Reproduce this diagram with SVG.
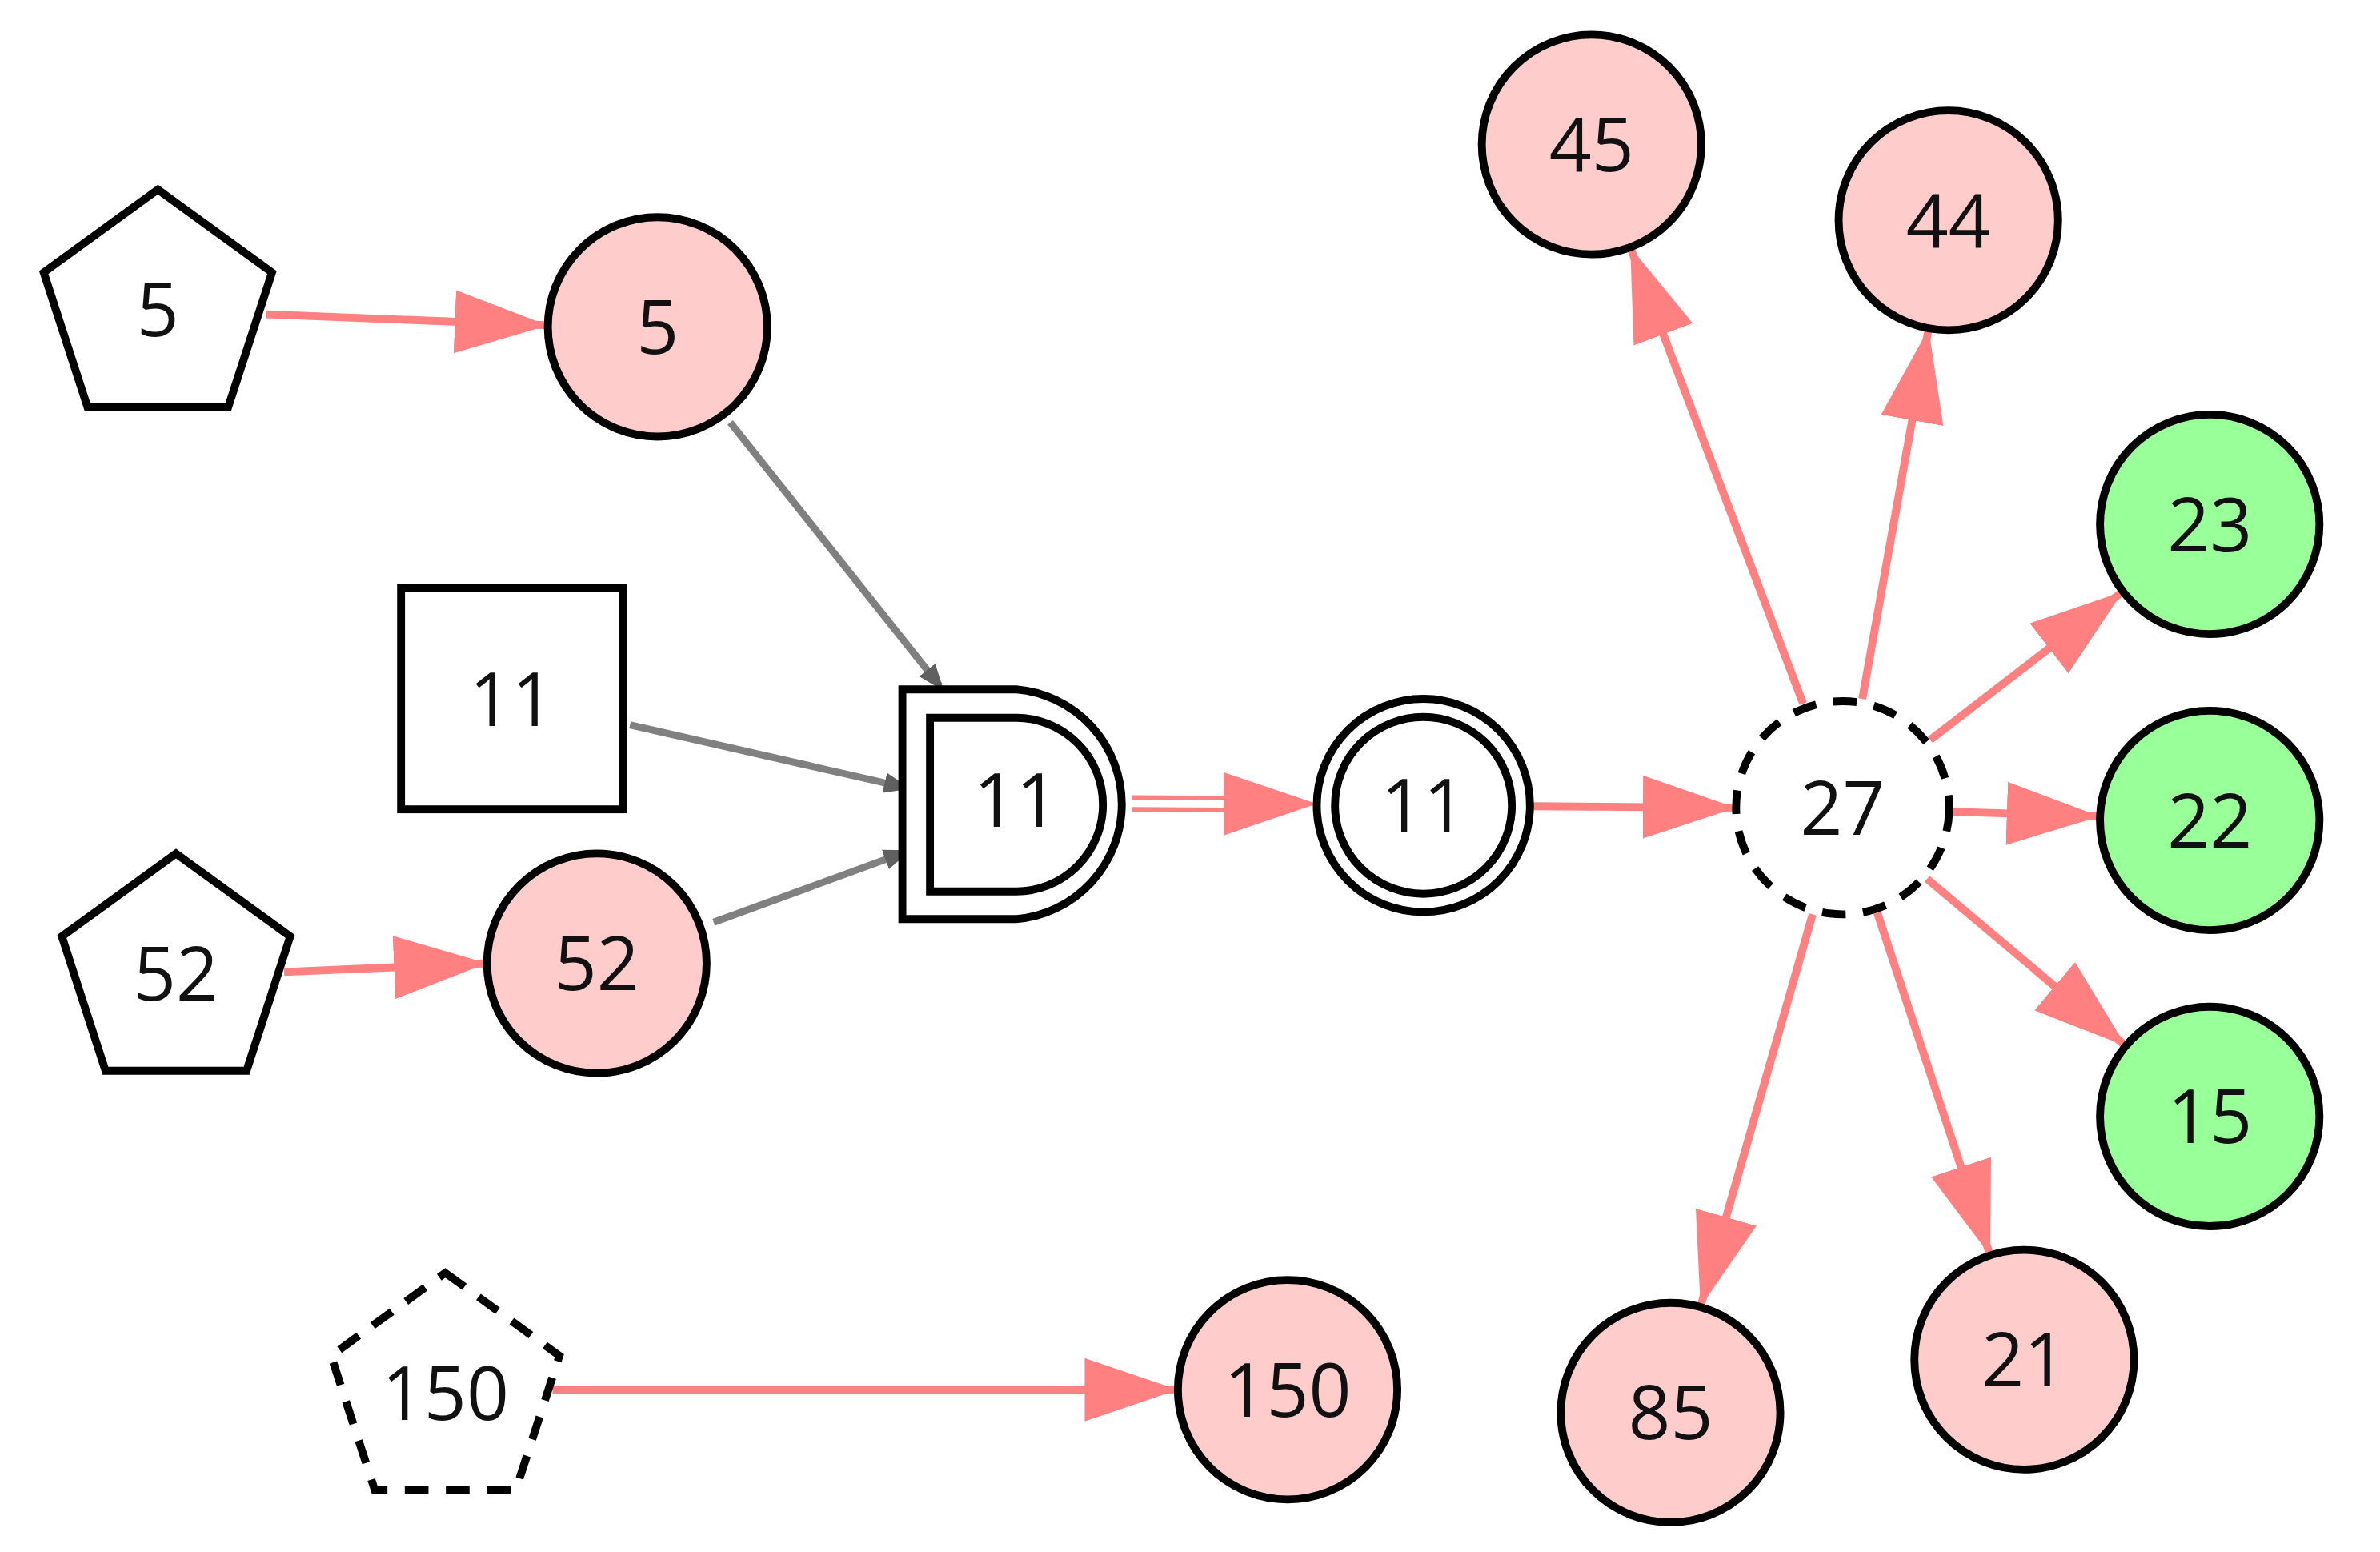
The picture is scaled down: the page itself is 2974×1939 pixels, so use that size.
<svg xmlns="http://www.w3.org/2000/svg" width="2974" height="1939" viewBox="0 0 2974 1939">
<style>
.n{stroke:#000;stroke-width:10}
.p{fill:#ffcccc}.g{fill:#99ff99}.w{fill:#fff}
.d{stroke-dasharray:30 22}
.t{font-family:"Open Sans","DejaVu Sans",sans-serif;font-size:94px;text-anchor:middle;fill:#111}
.r{stroke:#ff8080;stroke-width:10;fill:none}
.k{stroke:#808080;stroke-width:9;fill:none}
</style>
<defs>
<marker id="a" markerUnits="userSpaceOnUse" markerWidth="130" markerHeight="90" refX="118" refY="40" orient="auto"><path d="M0,0L118,40L0,80Z" fill="#ff8080"/></marker>
<marker id="b" markerUnits="userSpaceOnUse" markerWidth="50" markerHeight="50" refX="25" refY="25" orient="auto"><path d="M0,12L34,25L0,38Z" fill="#606060"/></marker>
<polygon id="pent" points="0,-152 144.6,-47 89.3,123 -89.3,123 -144.6,-47"/>
</defs>
<g transform="scale(0.9865)">
<g id="edges">
<line class="r" x1="337" y1="398" x2="694" y2="412" marker-end="url(#a)"/>
<line class="r" x1="360" y1="1231" x2="617" y2="1220" marker-end="url(#a)"/>
<line class="r" x1="700" y1="1760" x2="1492" y2="1760" marker-end="url(#a)"/>
<line class="k" x1="925" y1="535" x2="1190" y2="868" marker-end="url(#b)"/>
<line class="k" x1="798" y1="918" x2="1145" y2="997" marker-end="url(#b)"/>
<line class="k" x1="904" y1="1168" x2="1145" y2="1080" marker-end="url(#b)"/>
<line stroke="#ff8080" stroke-width="6" x1="1434" y1="1010" x2="1580" y2="1011"/>
<line stroke="#ff8080" stroke-width="6" x1="1434" y1="1025" x2="1580" y2="1026"/>
<line stroke="none" x1="1434" y1="1018" x2="1668" y2="1018" marker-end="url(#a)"/>
<line class="r" x1="1940" y1="1021" x2="2199" y2="1023" marker-end="url(#a)"/>
<line class="r" x1="2284" y1="891" x2="2065" y2="313" marker-end="url(#a)"/>
<line class="r" x1="2359" y1="885" x2="2443" y2="416" marker-end="url(#a)"/>
<line class="r" x1="2445" y1="937" x2="2689" y2="749" marker-end="url(#a)"/>
<line class="r" x1="2474" y1="1028" x2="2660" y2="1034" marker-end="url(#a)"/>
<line class="r" x1="2441" y1="1113" x2="2693" y2="1325" marker-end="url(#a)"/>
<line class="r" x1="2378" y1="1156" x2="2521" y2="1590" marker-end="url(#a)"/>
<line class="r" x1="2296" y1="1158" x2="2154" y2="1655" marker-end="url(#a)"/>
</g>
<g id="pent5"><use href="#pent" x="200" y="392" class="n w"/><text class="t" x="200" y="426">5</text></g>
<g id="c5"><circle cx="833" cy="414" r="139" class="n p"/><text class="t" x="833" y="448">5</text></g>
<g id="sq11"><rect x="508" y="745" width="281" height="280" class="n w"/><text class="t" x="648" y="919">11</text></g>
<g id="pent52"><use href="#pent" x="223" y="1233" class="n w"/><text class="t" x="223" y="1267">52</text></g>
<g id="c52"><circle cx="756" cy="1220" r="139" class="n p"/><text class="t" x="756" y="1254">52</text></g>
<g id="d11">
<path d="M1143,873H1287A146,146 0 0 1 1287,1164H1143Z" class="n w"/>
<path d="M1178,909H1287A110,110 0 0 1 1287,1129H1178Z" class="n w"/>
<text class="t" x="1287" y="1047">11</text></g>
<g id="c11"><circle cx="1803" cy="1020" r="135" class="n w"/><circle cx="1803" cy="1020" r="112" class="n w"/><text class="t" x="1803" y="1054">11</text></g>
<g id="c27"><circle cx="2334" cy="1023" r="135" class="n w d"/><text class="t" x="2334" y="1057">27</text></g>
<g id="c45"><circle cx="2016" cy="183" r="139" class="n p"/><text class="t" x="2016" y="217">45</text></g>
<g id="c44"><circle cx="2468" cy="279" r="139" class="n p"/><text class="t" x="2468" y="313">44</text></g>
<g id="c23"><circle cx="2799" cy="664" r="139" class="n g"/><text class="t" x="2799" y="698">23</text></g>
<g id="c22"><circle cx="2799" cy="1039" r="139" class="n g"/><text class="t" x="2799" y="1073">22</text></g>
<g id="c15"><circle cx="2799" cy="1414" r="139" class="n g"/><text class="t" x="2799" y="1448">15</text></g>
<g id="c21"><circle cx="2564" cy="1722" r="139" class="n p"/><text class="t" x="2564" y="1756">21</text></g>
<g id="c85"><circle cx="2116" cy="1789" r="139" class="n p"/><text class="t" x="2116" y="1823">85</text></g>
<g id="c150"><circle cx="1631" cy="1760" r="139" class="n p"/><text class="t" x="1631" y="1794">150</text></g>
<g id="pent150"><use href="#pent" x="564" y="1764" class="n w d"/><text class="t" x="564" y="1798">150</text></g>
</g>
</svg>
